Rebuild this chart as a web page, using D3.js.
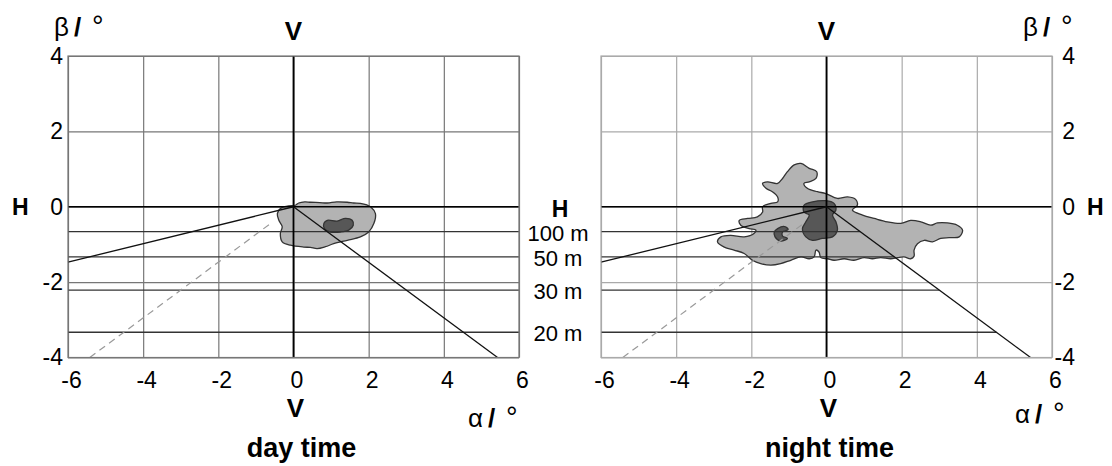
<!DOCTYPE html>
<html>
<head>
<meta charset="utf-8">
<script src="https://cdn.jsdelivr.net/npm/d3@7"></script>
<style>
body{margin:0;background:#fff;}
text{font-family:"Liberation Sans",Arial,sans-serif;fill:#000;}
</style>
</head>
<body>
<script>
////////////

//axes
var xTicks=[-6,-4,-2,0,2,4,6];
var yTicks=[-4,-2,0,2,4];

//distance lines (beta in degrees)
var distLabels=['100 m','50 m','30 m','20 m'];
var distBeta=[-0.66,-1.33,-2.21,-3.33];

//cut-off lines
var cutLeft=[[-6,-1.47],[0,0]];
var cutRight=[[0,0],[5.43,-4]];
var cutDash=[[-5.42,-4],[-0.55,-0.4]];

//day time blob
var dayOuter=[[0.05,0.04],[0.14,0.10],[0.3,0.13],[0.45,0.12],[0.7,0.11],[0.90,0.10],[1.15,0.13],[1.43,0.12],
	[1.6,0.1],[1.78,0.09],[1.95,0.05],[2.05,0.0],[2.18,-0.18],[2.14,-0.44],[2.00,-0.67],[1.78,-0.80],
	[1.43,-0.89],[1.07,-0.98],[0.85,-1.06],[0.63,-1.11],[0.45,-1.08],[0.27,-1.07],[-0.08,-1.02],[-0.30,-0.93],
	[-0.35,-0.71],[-0.30,-0.53],[-0.39,-0.36],[-0.43,-0.18],[-0.35,-0.05],[-0.13,0.02]];
var dayCore=[[0.81,-0.44],[0.90,-0.36],[1.16,-0.38],[1.38,-0.31],[1.56,-0.36],[1.59,-0.49],
	[1.47,-0.62],[1.25,-0.67],[0.98,-0.67],[0.82,-0.58]];

//night time blob
var nightOuter=[[-0.86,1.11],[-0.68,1.15],[-0.46,1.02],[-0.26,0.93],[-0.28,0.75],[-0.46,0.66],[-0.60,0.62],
	[-0.51,0.49],[-0.24,0.40],[-0.02,0.35],[0.29,0.22],[0.56,0.26],[0.78,0.19],[0.82,0.04],[0.69,-0.09],
	[0.96,-0.22],[1.27,-0.31],[1.62,-0.40],[1.98,-0.44],[2.24,-0.36],[2.51,-0.40],[2.77,-0.49],[2.95,-0.43],
	[3.22,-0.43],[3.48,-0.49],[3.62,-0.62],[3.53,-0.80],[3.26,-0.82],[3.04,-0.84],[2.82,-0.93],[2.60,-0.89],
	[2.42,-0.98],[2.33,-1.15],[2.33,-1.31],[2.24,-1.38],[2.06,-1.33],[1.89,-1.35],[1.71,-1.38],[1.44,-1.35],
	[1.22,-1.38],[1.00,-1.35],[0.73,-1.42],[0.47,-1.38],[0.20,-1.42],[0.03,-1.38],[-0.15,-1.35],[-0.20,-1.20],
	[-0.28,-1.15],[-0.33,-1.33],[-0.46,-1.38],[-0.68,-1.33],[-0.95,-1.42],[-1.22,-1.51],[-1.48,-1.55],
	[-1.75,-1.51],[-1.97,-1.42],[-2.19,-1.24],[-2.46,-1.15],[-2.72,-1.07],[-2.90,-0.93],[-2.81,-0.80],
	[-2.55,-0.76],[-2.19,-0.80],[-1.93,-0.71],[-1.88,-0.62],[-2.06,-0.58],[-2.28,-0.49],[-2.32,-0.36],
	[-2.10,-0.31],[-1.84,-0.27],[-1.70,-0.14],[-1.70,0.00],[-1.48,0.09],[-1.30,0.13],[-1.30,0.26],
	[-1.44,0.40],[-1.61,0.49],[-1.70,0.62],[-1.57,0.66],[-1.30,0.62],[-1.17,0.75],[-1.04,0.93]];
var nightCore=[[-0.60,0.04],[-0.37,0.13],[-0.02,0.16],[0.20,0.09],[0.25,-0.09],[0.16,-0.22],[0.25,-0.40],
	[0.29,-0.62],[0.16,-0.80],[-0.11,-0.84],[-0.37,-0.89],[-0.55,-0.80],[-0.64,-0.58],[-0.55,-0.40],
	[-0.46,-0.22],[-0.60,-0.14]];
var nightSpot=[[-1.30,-0.58],[-1.13,-0.52],[-1.02,-0.60],[-1.17,-0.67],[-1.17,-0.78],[-1.04,-0.84],
	[-1.22,-0.91],[-1.37,-0.80],[-1.39,-0.67]];

var W=451,H=301.5,TOP=56;

var svg=d3.select('body').append('svg')
	.attr('width',1112).attr('height',466);

//"beta / °" and "alpha / °"
function unitLabel(g,sym,x,y){
	var t=g.append('text').attr('y',y).style('font-size','26px');
	t.append('tspan').attr('x',x).text(sym);
	t.append('tspan').attr('x',x+20).style('font-weight','bold').text('/');
	t.append('tspan').attr('x',x+38).style('font-size','29px').text('°');
}

function panel(o){
	var g=svg.append('g').attr('transform','translate('+o.left+','+TOP+')');
	var x=d3.scaleLinear().domain([-6,6]).range([0,W]);
	var y=d3.scaleLinear().domain([-4,4]).range([H,0]);

	//grid
	g.append('g').attr('transform','translate(0,'+H+')')
		.call(d3.axisBottom(x).tickValues(xTicks).tickSize(-H).tickFormat(''));
	g.append('g')
		.call(d3.axisLeft(y).tickValues(yTicks).tickSize(-W).tickFormat(''));
	g.selectAll('.domain').remove();
	g.selectAll('.tick line').attr('stroke',o.grid).attr('stroke-width',1.2);

	//blobs
	var line=d3.line().x(function(d){return x(d[0]);}).y(function(d){return y(d[1]);})
		.curve(d3.curveCatmullRomClosed);
	o.blobs.forEach(function(b){
		g.append('path').attr('d',line(b.pts))
			.attr('fill',b.fill).attr('stroke','#333').attr('stroke-width',1.3);
	});

	//distance lines
	g.selectAll('.dist').data(distBeta).enter().append('line')
		.attr('x1',0)
		.attr('x2',function(d){return o.cut ? x(cutRight[1][0]*d/cutRight[1][1]) : W;})
		.attr('y1',function(d){return y(d);}).attr('y2',function(d){return y(d);})
		.attr('stroke','#333').attr('stroke-width',1.3);

	//main axes
	g.append('line').attr('x1',0).attr('x2',W).attr('y1',y(0)).attr('y2',y(0))
		.attr('stroke','#000').attr('stroke-width',1.6);
	g.append('line').attr('x1',x(0)).attr('x2',x(0)).attr('y1',0).attr('y2',H)
		.attr('stroke','#000').attr('stroke-width',1.8);

	//cut-off
	var seg=d3.line().x(function(d){return x(d[0]);}).y(function(d){return y(d[1]);});
	g.append('path').attr('d',seg(cutLeft)).attr('fill','none').attr('stroke','#111').attr('stroke-width',1.3);
	g.append('path').attr('d',seg(cutRight)).attr('fill','none').attr('stroke','#111').attr('stroke-width',1.3);
	g.append('path').attr('d',seg(cutDash)).attr('fill','none').attr('stroke','#999')
		.attr('stroke-width',1.2).attr('stroke-dasharray','7,5');

	//frame
	g.append('rect').attr('width',W).attr('height',H).attr('fill','none')
		.attr('stroke',o.grid).attr('stroke-width',1.2);

	//tick labels
	var bx=g.append('g').attr('transform','translate(0,'+H+')')
		.call(d3.axisBottom(x).tickValues(xTicks).tickSize(0).tickPadding(14)
			.tickFormat(function(d){return String(d);}));
	bx.select('.domain').remove();
	bx.selectAll('text').style('font-size','23px').attr('dx',3);

	var ay=o.right ? d3.axisRight(y) : d3.axisLeft(y);
	var by=g.append('g').attr('transform','translate('+(o.right?W:0)+',0)')
		.call(ay.tickValues(yTicks).tickSize(0).tickPadding(5)
			.tickFormat(function(d){return String(d);}));
	by.select('.domain').remove();
	by.selectAll('text').style('font-size','23px');
	if(o.right) by.selectAll('text').attr('text-anchor','end').attr('x',23);

	//labels
	g.append('text').attr('x',x(0)).attr('y',-16).attr('text-anchor','middle')
		.style('font-size','26px').style('font-weight','bold').text('V');
	g.append('text').attr('x',x(0)+2).attr('y',H+59).attr('text-anchor','middle')
		.style('font-size','26px').style('font-weight','bold').text('V');
	g.append('text').attr('x',x(0)+o.titleDx).attr('y',H+99).attr('text-anchor','middle')
		.style('font-size','27px').style('font-weight','bold').text(o.title);

	return {x:x,y:y};
}

var L=panel({left:68,grid:'#777',right:false,cut:false,title:'day time',titleDx:8,
	blobs:[{pts:dayOuter,fill:'#b3b3b3'},{pts:dayCore,fill:'#575757'}]});
var R=panel({left:601,grid:'#aaa',right:true,cut:true,title:'night time',titleDx:3,
	blobs:[{pts:nightOuter,fill:'#b3b3b3'},{pts:nightCore,fill:'#575757'},{pts:nightSpot,fill:'#575757'}]});

//outer texts
unitLabel(svg,'β',54,36);
unitLabel(svg,'β',1023,36);
unitLabel(svg,'α',468,427);
unitLabel(svg,'α',1015,423);

svg.append('text').attr('x',12).attr('y',TOP+L.y(0)+8)
	.style('font-size','23px').style('font-weight','bold').text('H');
svg.append('text').attr('x',1087).attr('y',TOP+R.y(0)+8)
	.style('font-size','23px').style('font-weight','bold').text('H');
svg.append('text').attr('x',560).attr('y',TOP+L.y(0)+10).attr('text-anchor','middle')
	.style('font-size','23px').style('font-weight','bold').text('H');

svg.selectAll('.dl').data(distLabels).enter().append('text')
	.attr('x',558)
	.attr('y',function(d,i){return TOP+L.y(distBeta[i])+9;})
	.attr('text-anchor','middle').style('font-size','22px')
	.text(function(d){return d;});

////////////
</script>
</body>
</html>
